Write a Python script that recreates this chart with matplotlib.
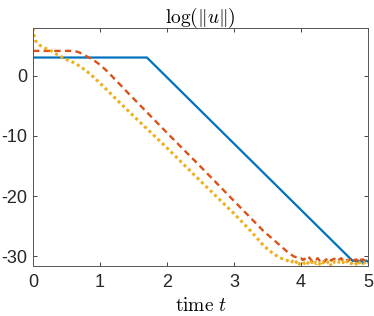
import numpy as np
import matplotlib
matplotlib.use('Agg')
import matplotlib.pyplot as plt

plt.rcParams['font.family'] = ['Liberation Sans', 'DejaVu Sans']
plt.rcParams['mathtext.fontset'] = 'cm'

# curves (time, log norm)
t_blue = [0.0, 1.70, 4.72]
y_blue = [3.0, 3.0, -30.2]
blue_floor = [-30.5, -30.8, -30.6, -31.0, -30.7, -30.9, -30.6, -31.1, -30.8, -30.7, -30.9]

t_red = [0.0, 0.62, 0.70, 0.80, 0.90, 1.00, 1.10, 1.20, 1.30, 1.42, 2.00, 2.50,
         3.00, 3.44, 3.71, 3.80, 3.89, 3.975]
y_red = [4.1, 4.1, 3.8, 3.2, 2.6, 1.8, 0.8, -0.35, -1.5, -2.9, -9.5, -15.1,
         -20.8, -25.8, -28.4, -29.3, -30.0, -30.3]
red_floor = [-30.3, -30.6, -30.4, -30.7, -30.5, -30.2, -30.6, -30.8, -30.4, -30.5,
             -30.3, -30.7, -30.6, -30.4, -30.9, -30.5, -30.6, -30.3, -30.7, -30.5,
             -30.4, -30.8, -30.6, -30.5, -30.3, -30.7, -30.6, -30.4, -30.8, -30.5,
             -30.6, -30.3, -30.7, -30.5, -30.9, -30.4, -30.6, -30.5, -30.7, -30.4, -30.6]

t_yel = [0.0, 0.015, 0.035, 0.10, 0.19, 0.27, 0.35, 0.43, 0.51, 0.60, 0.70, 0.80,
         0.90, 1.00, 1.10, 1.20, 1.32, 1.50, 2.00, 2.50, 3.00, 3.26, 3.44, 3.59,
         3.70, 3.80]
y_yel = [7.9, 6.7, 5.8, 5.05, 4.5, 4.1, 3.55, 3.1, 2.6, 2.2, 1.55, 0.75,
         -0.2, -1.25, -2.35, -3.45, -4.75, -6.7, -12.0, -17.5, -22.9, -25.9, -28.2, -29.6,
         -30.3, -30.7]
yel_floor = [-30.9, -31.1, -30.8, -31.2, -31.0, -30.7, -31.3, -31.0, -30.9, -31.2,
             -30.8, -31.1, -31.4, -30.9, -31.0, -30.7, -31.2, -31.0, -31.3, -30.8,
             -31.1, -30.9, -31.2, -31.0, -30.8, -31.6, -31.1, -30.9, -31.0, -31.2,
             -30.8, -31.1, -30.9, -31.3, -31.0, -30.7, -31.1, -31.2, -30.9, -31.0,
             -31.3, -30.8, -31.1, -30.9, -31.2, -31.0, -30.8, -31.1]

# floor samples on a 0.025 time grid
tb = list(t_blue) + list(4.75 + 0.025 * np.arange(len(blue_floor)))
yb = list(y_blue) + blue_floor
tr = list(t_red) + list(4.0 + 0.025 * np.arange(len(red_floor)))
yr = list(y_red) + red_floor
ty = list(t_yel) + list(3.825 + 0.025 * np.arange(len(yel_floor)))
yy = list(y_yel) + yel_floor

fig = plt.figure(figsize=(3.74, 3.16), dpi=100)
ax = fig.add_axes([33 / 374, 50 / 316, 335 / 374, 238 / 316])

ax.plot(tb, yb, '-', color='#0072BD', lw=1.6)
ax.plot(tr, yr, color='#D95319', lw=1.7, dashes=[2.7, 1.8])
ax.plot(ty, yy, color='#EDB120', lw=2.2, dashes=[1, 1.0])

ax.set_xlim(0, 5)
ax.set_ylim(-31.6, 7.9)
ax.set_xticks(range(0, 6))
ax.set_yticks([-30, -20, -10, 0])
ax.set_yticklabels(['-30', '-20', '-10', '0'])
ax.tick_params(direction='in', length=3, width=0.6, top=True, right=True,
               labelsize=13, colors='#262626', pad=6)
ax.tick_params(axis='y', pad=4)
for s in ax.spines.values():
    s.set_color('#555555')
    s.set_linewidth(0.7)

ax.set_title(r'$\log(\|u\|)$', fontsize=14, pad=4)
ax.set_xlabel(r'$\mathrm{time}\ t$', fontsize=14, labelpad=4)

fig.savefig('out.png', dpi=100)
plt.close(fig)
